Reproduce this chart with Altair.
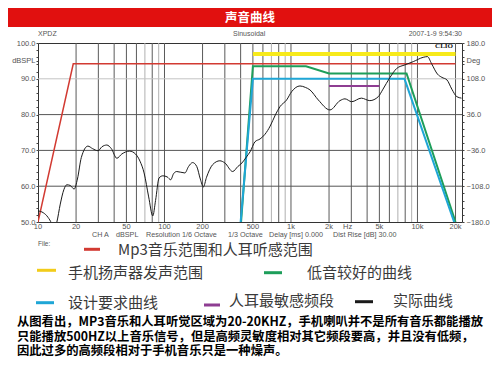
import altair as alt
import pandas as pd

# ---------------- data ----------------
TITLE = "声音曲线"

actual_freq = [10, 11, 12, 12.8, 13.3, 14.1, 15, 16, 16.9, 18, 19.3, 20.5, 22, 24.8, 27, 29.8,
               32, 35, 38, 42, 46, 53, 59, 64, 69, 75, 80.8, 85, 90.6, 97, 105, 112, 118,
               125, 145, 155, 167, 180, 192, 203, 215, 240, 274, 300, 346, 380, 410, 445,
               475, 519, 570, 623, 685, 752, 818, 924, 1012, 1178, 1300, 1413, 1644, 2033,
               2440, 2673, 3019, 3600, 4200, 4900, 5300, 6070, 6860, 7970, 9270, 11100,
               12000, 12900, 14400, 15600, 17100, 18700, 20500, 22300]
actual_db = [53.1, 52.6, 51.3, 49.5, 47.5, 50.0, 55.0, 59.0, 60.4, 60.2, 59.2, 62.0, 68.0, 71.2,
             70.5, 69.9, 71.0, 71.5, 70.5, 67.8, 69.0, 69.8, 69.0, 67.0, 63.7, 57.0, 51.7, 56.0,
             62.3, 62.9, 62.6, 61.8, 63.5, 64.1, 63.7, 65.5, 66.6, 65.5, 62.0, 59.8, 62.5, 66.0,
             67.1, 66.5, 64.1, 65.5, 66.5, 68.2, 69.6, 72.4, 73.2, 74.5, 76.8, 79.9, 82.2, 84.1,
             86.4, 88.0, 87.6, 86.9, 84.1, 81.3, 83.9, 84.4, 83.6, 84.6, 83.9, 85.0, 86.9, 90.4,
             92.9, 93.9, 94.8, 96.0, 96.2, 94.3, 91.3, 90.4, 89.7, 87.1, 85.0, 84.6]

mp3_freq = [10, 19, 20000]
mp3_db = [50, 94.2, 94.2]
speaker_freq = [500, 20000]
speaker_db = [96.9, 96.9]
bass_freq = [403, 500, 1315, 2000, 8200, 20000]
bass_db = [50, 93.5, 93.5, 91.5, 91.5, 50]
design_freq = [400, 500, 7900, 19500]
design_db = [50, 90.0, 90.0, 50]
ear_freq = [2000, 5000]
ear_db = [88, 88]

x_label_values = [10, 20, 50, 100, 200, 500, 1000, 2000, 5000, 10000, 20000]
x_label_texts = ["10", "20", "50", "100", "200", "500", "1k", "2k", "5k", "10k", "20k"]
grid_dark = [20, 30, 40, 50, 60, 80, 100, 200, 300, 400, 500, 600, 800, 1000,
             2000, 3000, 4000, 5000, 6000, 8000, 10000, 20000]
grid_light = [70, 90, 700, 900, 7000, 9000]
hgrid_dark = [60, 70, 80]
hgrid_light = [90]
y_tick_values = list(range(50, 101, 2)) + [95]

HEAD_LEFT = "XPDZ"
HEAD_MID = "Sinusoidal"
HEAD_RIGHT = "2007-1-9 9:54:30"
BRAND = "CLIO"
X_UNIT = "Hz"
INFO_FIELDS = ["CH A", "dBSPL", "Resolution 1/6 Octave", "1/3 Octave", "Delay [ms] 0.000",
               "Dist Rise [dB] 30.00"]
FILE_LABEL = "File:"

LEG_MP3 = "Mp3音乐范围和人耳听感范围"
LEG_SPK = "手机扬声器发声范围"
LEG_BASS = "低音较好的曲线"
LEG_DESIGN = "设计要求曲线"
LEG_EAR = "人耳最敏感频段"
LEG_ACTUAL = "实际曲线"

PARA = [
    "从图看出，MP3音乐和人耳听觉区域为20-20KHZ，手机喇叭并不是所有音乐都能播放",
    "只能播放500HZ以上音乐信号，但是高频灵敏度相对其它频段要高，并且没有低频，",
    "因此过多的高频段相对于手机音乐只是一种燥声。",
]

C_RED = "#d23a32"
C_YEL = "#f7ea1a"
C_GRN = "#1d9e5a"
C_CYN = "#1fa6d6"
C_PUR = "#8e3d92"
C_BLK = "#1a1a1a"

LATIN = "Liberation Sans"
CJK = "Noto Sans CJK SC"

W, H = 424, 179

xscale = alt.Scale(type="log", domain=[10, 22500], nice=False)
yscale = alt.Scale(domain=[50, 100], nice=False, zero=False)


def series(freqs, dbs, color, width, clip=True):
    df = pd.DataFrame({"f": freqs, "db": dbs})
    return alt.Chart(df).mark_line(color=color, strokeWidth=width, clip=clip).encode(
        x=alt.X("f:Q", scale=xscale, axis=None),
        y=alt.Y("db:Q", scale=yscale, axis=None),
    )


def vgrid(vals, color):
    return alt.Chart(pd.DataFrame({"f": vals})).mark_rule(color=color, strokeWidth=1).encode(
        x=alt.X("f:Q", scale=xscale, axis=None)
    )


def label(text, x, y, size=7.5, color="#555", font=LATIN, weight="normal", align="left"):
    return alt.Chart(pd.DataFrame({"t": [text]})).mark_text(
        fontSize=size, color=color, font=font, fontWeight=weight, align=align, baseline="middle"
    ).encode(x=alt.value(x), y=alt.value(y), text="t:N")


def seg(x1, x2, y, color, width=3):
    return alt.Chart(pd.DataFrame({"k": [0]})).mark_rule(color=color, strokeWidth=width).encode(
        x=alt.value(x1), x2=alt.value(x2), y=alt.value(y)
    )


# header bar
header = alt.Chart(pd.DataFrame({"k": [0]})).mark_rect(color="#e1100f").encode(
    x=alt.value(-30), x2=alt.value(454), y=alt.value(-35), y2=alt.value(-16)
)

right_axis = alt.Axis(
    orient="right", values=y_tick_values, grid=False, domain=False, tickSize=2, tickColor="#444",
    labelPadding=2, labelFont=LATIN, labelFontSize=7.5, labelColor="#555", labelOverlap=False,
    labelFlush=False,
    labelExpr="datum.value == 95 ? 'Deg' : (datum.value % 10 == 0 ? format(-180 + (datum.value - 50) * 7.2, '.1f') : '')",
    title=None,
)
hgrid_d = alt.Chart(pd.DataFrame({"v": hgrid_dark})).mark_rule(color="#555", strokeWidth=1).encode(
    y=alt.Y("v:Q", scale=yscale, axis=right_axis)
)
hgrid_l = alt.Chart(pd.DataFrame({"v": hgrid_light})).mark_rule(color="#c4c4c4", strokeWidth=1).encode(
    y=alt.Y("v:Q", scale=yscale, axis=None)
)

left_axis = alt.Axis(
    orient="left", values=y_tick_values, grid=False, domain=False, tickSize=2, tickColor="#444",
    labelPadding=1, labelFont=LATIN, labelFontSize=7.5, labelColor="#555", labelOverlap=False,
    labelFlush=False,
    labelExpr="datum.value == 95 ? 'dBSPL' : (datum.value % 10 == 0 ? format(datum.value, '.1f') : '')",
    title=None,
)

actual = alt.Chart(pd.DataFrame({"f": actual_freq, "db": actual_db})).mark_line(
    color=C_BLK, strokeWidth=1, clip=True, interpolate="monotone"
).encode(
    x=alt.X("f:Q", scale=xscale, axis=None),
    y=alt.Y("db:Q", scale=yscale, axis=left_axis),
)

xlabels = alt.Chart(pd.DataFrame({"f": x_label_values, "t": x_label_texts})).mark_text(
    fontSize=7.5, color="#555", font=LATIN, baseline="middle", align="center"
).encode(
    x=alt.X("f:Q", scale=xscale, axis=None),
    y=alt.value(184.3),
    text="t:N",
)

info_x = [54, 78, 108, 190, 231, 295]
info_layers = [label(t, xx, 192.2, size=7.2) for t, xx in zip(INFO_FIELDS, info_x)]

LEG = 15
LEG_COLOR = "#3a3a3a"
layers = [
    header,
    vgrid(grid_light, "#b0b0b0"),
    vgrid(grid_dark, "#5a5a5a"),
    hgrid_l,
    hgrid_d,
    series(mp3_freq, mp3_db, C_RED, 1.5),
    series(speaker_freq, speaker_db, C_YEL, 4),
    series(bass_freq, bass_db, C_GRN, 2),
    series(design_freq, design_db, C_CYN, 2),
    series(ear_freq, ear_db, C_PUR, 2),
    actual,
    xlabels,
    label(TITLE, 212, -25, size=12.5, color="white", font=CJK, weight="bold", align="center"),
    label(HEAD_LEFT, 0, -9, size=7),
    label(HEAD_MID, 195, -9, size=7),
    label(HEAD_RIGHT, 424, -9, size=7, align="right"),
    label(BRAND, 415, 3, size=7, color="#111", font="Liberation Serif", weight="bold", align="right"),
    label(X_UNIT, 305, 184.3, size=7.5),
    *info_layers,
    label(FILE_LABEL, 0, 200.5, size=6.5),
    seg(46, 62, 206.3, C_RED),
    label(LEG_MP3, 80, 207.2, size=LEG, color=LEG_COLOR, font=CJK),
    seg(-1, 18, 227.3, "#f2cc1a"),
    label(LEG_SPK, 30, 229.5, size=LEG, color=LEG_COLOR, font=CJK),
    seg(226, 244, 229.7, C_GRN),
    label(LEG_BASS, 269, 229.5, size=LEG, color=LEG_COLOR, font=CJK),
    seg(-2, 16, 259.7, C_CYN),
    label(LEG_DESIGN, 30, 260, size=LEG, color=LEG_COLOR, font=CJK),
    seg(166, 182, 262, C_PUR),
    label(LEG_EAR, 191, 257.5, size=LEG, color=LEG_COLOR, font=CJK),
    seg(317, 335, 258.7, C_BLK),
    label(LEG_ACTUAL, 355, 257.5, size=LEG, color=LEG_COLOR, font=CJK),
    label(PARA[0], -21, 278.5, size=12.3, color="#000", font=CJK, weight="bold"),
    label(PARA[1], -21, 293.5, size=12.3, color="#000", font=CJK, weight="bold"),
    label(PARA[2], -21, 308, size=12.3, color="#000", font=CJK, weight="bold"),
]

chart = alt.layer(*layers).resolve_axis(y="independent").properties(
    width=W,
    height=H,
    autosize=alt.AutoSizeParams(type="none"),
    padding={"left": 30, "top": 35, "right": 30, "bottom": 145},
).configure_view(stroke="#333", strokeWidth=1)

chart.save("out.html", embed_options={"renderer": "svg", "actions": False})
